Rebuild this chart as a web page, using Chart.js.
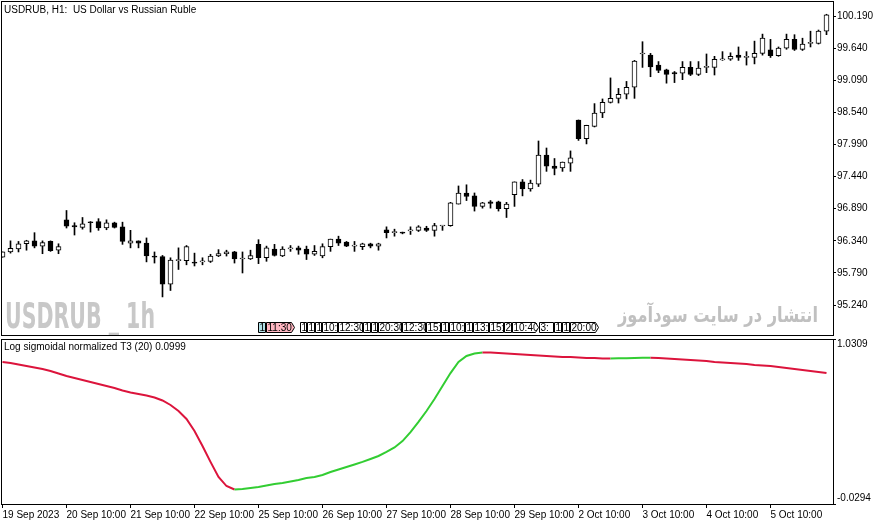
<!DOCTYPE html>
<html>
<head>
<meta charset="utf-8">
<script src="https://cdn.jsdelivr.net/npm/chart.js@4.4.1/dist/chart.umd.min.js"></script>
<style>
html, body { margin: 0; padding: 0; background: #fff; overflow: hidden; }
#wrap { position: relative; width: 881px; height: 525px; }
canvas { position: absolute; left: 0; }
#priceCanvas { top: 0; }
#indCanvas { top: 337px; }
</style>
</head>
<body>
<div id="wrap">
  <canvas id="priceCanvas" width="881" height="337"></canvas>
  <canvas id="indCanvas" width="881" height="188"></canvas>
</div>
<script>
// USDRUB H1 candles
const opens = [96.06, 96.15, 96.20, 96.29, 96.34, 96.25, 96.33, 96.18, 96.70, 96.60,
  96.57, 96.66, 96.67, 96.56, 96.65, 96.58, 96.30, 96.34, 96.30, 96.08,
  96.07, 95.60, 96.00, 96.00, 95.97, 95.98, 95.99, 96.08, 96.12, 96.15,
  96.03, 96.03, 96.28, 96.05, 96.20, 96.08, 96.20, 96.22, 96.20, 96.11,
  96.08, 96.24, 96.37, 96.32, 96.25, 96.24, 96.29, 96.25, 96.53, 96.48,
  96.49, 96.51, 96.52, 96.56, 96.52, 96.595, 96.60, 96.97, 97.16, 97.11,
  96.93, 97.01, 97.01, 96.89, 97.13, 97.35, 97.23, 97.31, 97.81, 97.62,
  97.59, 97.67, 98.41, 98.09, 98.30, 98.53, 98.71, 98.78, 98.85, 98.97,
  99.54, 99.52, 99.35, 99.27, 99.22, 99.21, 99.31, 99.19, 99.31, 99.31,
  99.44, 99.45, 99.52, 99.48, 99.48, 99.55, 99.61, 99.51, 99.64, 99.79,
  99.62, 99.72, 99.72, 99.93];
const highs = [96.15, 96.34, 96.33, 96.35, 96.48, 96.34, 96.34, 96.29, 96.86, 96.65,
  96.74, 96.67, 96.72, 96.70, 96.66, 96.66, 96.52, 96.34, 96.39, 96.15,
  96.09, 96.05, 96.22, 96.26, 96.13, 96.05, 96.11, 96.19, 96.18, 96.16,
  96.15, 96.18, 96.36, 96.25, 96.28, 96.24, 96.26, 96.25, 96.25, 96.26,
  96.29, 96.37, 96.42, 96.33, 96.33, 96.30, 96.30, 96.30, 96.58, 96.54,
  96.49, 96.58, 96.60, 96.59, 96.64, 96.60, 97.00, 97.28, 97.30, 97.16,
  97.00, 97.03, 97.02, 97.00, 97.35, 97.39, 97.38, 98.05, 97.93, 97.75,
  97.69, 97.88, 98.41, 98.32, 98.69, 98.77, 99.13, 98.95, 99.07, 99.43,
  99.75, 99.55, 99.41, 99.28, 99.24, 99.41, 99.41, 99.41, 99.54, 99.50,
  99.58, 99.56, 99.66, 99.58, 99.76, 99.88, 99.79, 99.66, 99.88, 99.87,
  99.81, 99.93, 99.95, 100.22];
const lows = [96.06, 96.13, 96.15, 96.18, 96.22, 96.12, 96.16, 96.12, 96.56, 96.44,
  96.54, 96.49, 96.52, 96.53, 96.56, 96.28, 96.22, 96.22, 95.98, 95.96,
  95.38, 95.49, 95.85, 95.93, 95.91, 95.93, 95.97, 96.07, 96.08, 95.96,
  95.79, 96.02, 95.95, 95.99, 96.08, 96.07, 96.16, 96.11, 96.02, 96.09,
  96.05, 96.16, 96.26, 96.24, 96.16, 96.19, 96.22, 96.18, 96.39, 96.42,
  96.46, 96.45, 96.50, 96.50, 96.42, 96.52, 96.59, 96.97, 97.03, 96.85,
  96.90, 96.90, 96.85, 96.74, 96.93, 97.11, 97.19, 97.27, 97.53, 97.47,
  97.53, 97.53, 98.06, 98.00, 98.29, 98.45, 98.70, 98.70, 98.77, 98.78,
  99.31, 99.15, 99.22, 99.04, 99.05, 99.10, 99.17, 99.17, 99.22, 99.18,
  99.43, 99.43, 99.43, 99.35, 99.37, 99.52, 99.48, 99.50, 99.62, 99.60,
  99.60, 99.66, 99.71, 99.87];
const closes = [96.15, 96.21, 96.29, 96.34, 96.25, 96.31, 96.17, 96.24, 96.59, 96.58,
  96.63, 96.65, 96.56, 96.65, 96.57, 96.33, 96.34, 96.30, 96.08, 96.06,
  95.60, 96.01, 96.02, 96.24, 95.96, 95.99, 96.08, 96.12, 96.15, 96.03,
  96.04, 96.09, 96.05, 96.22, 96.09, 96.20, 96.22, 96.18, 96.11, 96.16,
  96.24, 96.37, 96.30, 96.25, 96.26, 96.29, 96.25, 96.29, 96.48, 96.49,
  96.47, 96.52, 96.58, 96.52, 96.60, 96.60, 96.99, 97.16, 97.10, 96.93,
  96.99, 96.98, 96.89, 96.97, 97.35, 97.23, 97.33, 97.81, 97.62, 97.58,
  97.69, 97.76, 98.09, 98.32, 98.53, 98.71, 98.78, 98.85, 98.97, 99.42,
  99.55, 99.32, 99.26, 99.19, 99.20, 99.31, 99.19, 99.30, 99.32, 99.45,
  99.45, 99.50, 99.48, 99.50, 99.55, 99.81, 99.51, 99.64, 99.79, 99.62,
  99.71, 99.74, 99.93, 100.21];

// Log sigmoidal normalized T3 (20), one value per bar
const t3Values = [0.883, 0.877, 0.867, 0.857, 0.848, 0.838, 0.825, 0.809, 0.793, 0.780,
  0.768, 0.755, 0.742, 0.729, 0.716, 0.700, 0.687, 0.678, 0.668, 0.655,
  0.636, 0.607, 0.568, 0.517, 0.440, 0.343, 0.241, 0.144, 0.086, 0.064,
  0.067, 0.073, 0.080, 0.089, 0.099, 0.106, 0.115, 0.125, 0.138, 0.144,
  0.157, 0.176, 0.192, 0.208, 0.224, 0.241, 0.260, 0.279, 0.305, 0.334,
  0.375, 0.433, 0.498, 0.568, 0.645, 0.729, 0.812, 0.883, 0.922, 0.938,
  0.944, 0.944, 0.941, 0.938, 0.935, 0.931, 0.928, 0.925, 0.922, 0.919,
  0.915, 0.915, 0.912, 0.909, 0.909, 0.906, 0.906, 0.907, 0.908, 0.909,
  0.910, 0.911, 0.909, 0.906, 0.902, 0.899, 0.896, 0.893, 0.890, 0.883,
  0.880, 0.877, 0.874, 0.870, 0.864, 0.861, 0.857, 0.851, 0.845, 0.838,
  0.832, 0.825, 0.819, 0.812];

const priceTicks = [95.24, 95.79, 96.34, 96.89, 97.44, 97.99, 98.54, 99.09, 99.64, 100.19];
const t3Ticks = [-0.0294, 1.0309];
const timeLabels = ['19 Sep 2023', '20 Sep 10:00', '21 Sep 10:00', '22 Sep 10:00', '25 Sep 10:00',
  '26 Sep 10:00', '27 Sep 10:00', '28 Sep 10:00', '29 Sep 10:00', '2 Oct 10:00',
  '3 Oct 10:00', '4 Oct 10:00', '5 Oct 10:00'];
const barsPerLabel = 8;

const boxLabels = ['1', '11:30', '1', '1', '1', '10:', '12:30', '1', '1', '20:30', '12:30', '15:',
  '1', '10:', '1', '13:', '15:', '2', '10:40', '3:', '1', '1', '20:00'];
// [left, right, fill, arrow] for each box above
const boxLayout = [[258, 265, '#b0e0e6', 0], [266, 291, '#ffb6c1', 1], [300, 306, '#fff', 0],
  [307, 314, '#fff', 0], [315, 321, '#fff', 0], [322, 337, '#fff', 0], [338, 362, '#fff', 0],
  [363, 370, '#fff', 0], [371, 377, '#fff', 0], [378, 401, '#fff', 0], [402, 425, '#fff', 0],
  [426, 440, '#fff', 0], [441, 448, '#fff', 0], [449, 464, '#fff', 0], [465, 472, '#fff', 0],
  [473, 488, '#fff', 0], [489, 503, '#fff', 0], [504, 511, '#fff', 0], [512, 535, '#fff', 1],
  [539, 553, '#fff', 0], [554, 561, '#fff', 0], [562, 569, '#fff', 0], [570, 595, '#fff', 1]];

const X_MIN = -0.1875, X_MAX = X_MIN + opens.length;
const FONT = '"Liberation Sans", Arial, sans-serif';
const RED = '#dc143c', GREEN = '#32cd32';

const idx = opens.map((o, i) => i);
const bodyData = idx.map(i => ({ x: i, y: [opens[i], closes[i]] }));
const wickData = idx.map(i => ({ x: i, y: [lows[i], highs[i]] }));
const bodyFill = idx.map(i => closes[i] >= opens[i] ? '#ffffff' : '#000000');

function frame(chart) {
    const a = chart.chartArea, c = chart.ctx;
    c.save();
    c.strokeStyle = '#000';
    c.lineWidth = 1;
    c.strokeRect(a.left + 0.5, a.top + 0.5, a.right - a.left, a.bottom - a.top);
    c.restore();
}

const priceOverlay = {
    id: 'priceOverlay',
    beforeDatasetsDraw(chart) {
        const c = chart.ctx;
        c.save();
        c.fillStyle = '#c8c8c8';
        c.font = 'bold 36px "DejaVu Sans", sans-serif';
        c.fillText('USDRUB _ 1h', 5, 328, 150);
        c.fillStyle = '#c0c0c0';
        c.font = 'bold 21px "DejaVu Sans", sans-serif';
        c.textAlign = 'right';
        c.fillText('انتشار در سایت سودآموز', 818, 322, 200);
        c.restore();
    },
    afterDraw(chart) {
        const c = chart.ctx;
        frame(chart);
        c.save();
        c.fillStyle = '#000';
        c.font = '10px ' + FONT;
        c.fillText('USDRUB, H1:  US Dollar vs Russian Ruble', 4, 13);
        // small time boxes
        const top = 322, h = 10;
        boxLayout.forEach((b, i) => {
            const [l, r, fill, arrow] = b;
            c.beginPath();
            c.moveTo(l + 0.5, top + 0.5);
            c.lineTo(r + 0.5, top + 0.5);
            if (arrow) c.lineTo(r + 3.5, top + h / 2 + 0.5);
            c.lineTo(r + 0.5, top + h + 0.5);
            c.lineTo(l + 0.5, top + h + 0.5);
            c.closePath();
            c.fillStyle = fill;
            c.fill();
            c.strokeStyle = '#000';
            c.stroke();
            c.save();
            c.beginPath();
            c.rect(l + 1, top, r - l - 1 + (arrow ? 2 : 0), h);
            c.clip();
            c.fillStyle = '#000';
            c.font = '10px ' + FONT;
            c.fillText(boxLabels[i], l + 1.5, top + 9);
            c.restore();
        });
        c.restore();
    }
};

new Chart(document.getElementById('priceCanvas'), {
    type: 'bar',
    data: {
        datasets: [{
            data: bodyData,
            backgroundColor: bodyFill,
            borderColor: '#000',
            borderWidth: 1,
            borderSkipped: false,
            barThickness: 5,
            minBarLength: 1,
            grouped: false,
            order: 0
        }, {
            data: wickData,
            backgroundColor: '#000',
            borderWidth: 0,
            barThickness: 1,
            grouped: false,
            order: 1
        }]
    },
    options: {
        responsive: false,
        animation: false,
        layout: { padding: { left: 1, top: 1, right: 0, bottom: 2 } },
        plugins: { legend: { display: false }, tooltip: { enabled: false } },
        scales: {
            x: { type: 'linear', min: X_MIN, max: X_MAX, offset: false, display: false },
            y: {
                position: 'right',
                min: 94.728,
                max: 100.447,
                afterBuildTicks: s => { s.ticks = priceTicks.map(v => ({ value: v })); },
                afterFit: s => { s.width = 48; s.paddingTop = 0; s.paddingBottom = 0; },
                ticks: { callback: v => v.toFixed(3), color: '#000', padding: 1, font: { family: FONT, size: 10 } },
                grid: { drawOnChartArea: false, tickLength: 3, color: '#000' },
                border: { color: '#000' }
            }
        }
    },
    plugins: [priceOverlay]
});

const indOverlay = {
    id: 'indOverlay',
    afterDraw(chart) {
        const c = chart.ctx, y = chart.scales.y;
        frame(chart);
        c.save();
        c.fillStyle = '#000';
        c.font = '10px ' + FONT;
        c.fillText('Log sigmoidal normalized T3 (20) 0.0999', 4, 13);
        c.textBaseline = 'middle';
        c.fillText(t3Ticks[1].toFixed(4), 837, y.getPixelForValue(t3Ticks[1]) + 5);
        c.fillText(t3Ticks[0].toFixed(4), 837, y.getPixelForValue(t3Ticks[0]) - 6);
        c.restore();
    }
};

new Chart(document.getElementById('indCanvas'), {
    type: 'line',
    data: {
        datasets: [{
            data: idx.map(i => ({ x: i, y: t3Values[i] })),
            borderWidth: 2,
            pointRadius: 0,
            tension: 0,
            borderColor: RED,
            segment: { borderColor: s => s.p1.parsed.y > s.p0.parsed.y ? GREEN : RED }
        }]
    },
    options: {
        responsive: false,
        animation: false,
        layout: { padding: { left: 1, top: 2, right: 0, bottom: 0 } },
        plugins: { legend: { display: false }, tooltip: { enabled: false } },
        scales: {
            x: {
                type: 'linear',
                min: X_MIN,
                max: X_MAX,
                offset: false,
                afterBuildTicks: s => { s.ticks = timeLabels.map((t, i) => ({ value: i * barsPerLabel })); },
                afterFit: s => { s.height = 21; s.paddingLeft = 0; s.paddingRight = 0; },
                ticks: {
                    callback: (v, i) => timeLabels[i],
                    align: 'start',
                    maxRotation: 0,
                    autoSkip: false,
                    padding: 1,
                    color: '#000',
                    font: { family: FONT, size: 10 }
                },
                grid: { drawOnChartArea: false, tickLength: 4, color: '#000' },
                border: { color: '#000' }
            },
            y: {
                position: 'right',
                min: t3Ticks[0],
                max: t3Ticks[1],
                afterBuildTicks: s => { s.ticks = t3Ticks.map(v => ({ value: v })); },
                afterFit: s => { s.width = 48; s.paddingTop = 0; s.paddingBottom = 0; },
                ticks: { display: false },
                grid: { drawOnChartArea: false, tickLength: 3, color: '#000' },
                border: { color: '#000' }
            }
        }
    },
    plugins: [indOverlay]
});
</script>
</body>
</html>
